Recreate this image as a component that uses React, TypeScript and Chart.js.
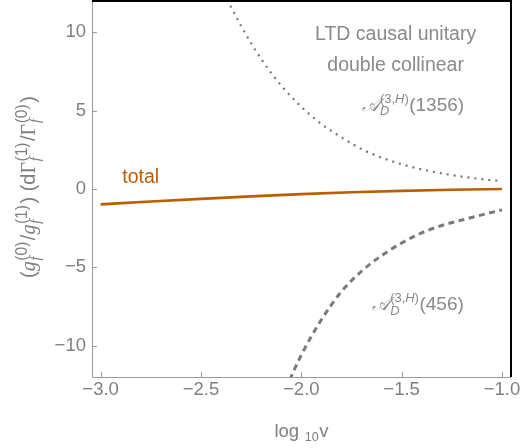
import { useEffect, useRef } from 'react';
import { Chart, registerables } from 'chart.js';

Chart.register(...registerables);

// ---- data ----
const totalX = [-3.0, -2.75, -2.5, -2.25, -2.0, -1.75, -1.5, -1.25, -1.0];
const totalY = [-0.98, -0.8, -0.63, -0.47, -0.33, -0.21, -0.12, -0.05, 0.0];

const upperX = [-2.4, -2.3, -2.2, -2.1, -2.0, -1.9, -1.8, -1.7, -1.6, -1.5, -1.4, -1.3, -1.2, -1.1, -1.0];
const upperY = [12.9, 10.4, 8.3, 6.6, 5.25, 4.15, 3.3, 2.55, 2.0, 1.58, 1.25, 1.0, 0.79, 0.63, 0.5];

const lowerX = [-2.1, -2.0, -1.9, -1.8, -1.7, -1.6, -1.5, -1.4, -1.3, -1.2, -1.1, -1.0];
const lowerY = [-13.4, -10.6, -8.35, -6.55, -5.25, -4.25, -3.45, -2.8, -2.33, -1.98, -1.65, -1.33];

const xTickValues = [-3.0, -2.5, -2.0, -1.5, -1.0];
const xTickLabels = ['\u22123.0', '\u22122.5', '\u22122.0', '\u22121.5', '\u22121.0'];
const yTickValues = [-10, -5, 0, 5, 10];
const yTickLabels = ['\u221210', '\u22125', '0', '5', '10'];

const SANS = '"Liberation Sans", Arial, Helvetica, sans-serif';
const SERIF = '"Liberation Serif", "Times New Roman", serif';
const AXIS_GRAY = '#9a9a9a';
const TEXT_GRAY = '#7f7f7f';
const ANNO_GRAY = '#8a8a8a';
const ORANGE = '#bb5e00';

type Piece = { t: string; i?: boolean; serif?: boolean };
type Run = { base: Piece[]; sup?: Piece[]; sub?: Piece[] };

function fontStr(p: Piece, size: number) {
  return `${p.i ? 'italic ' : ''}${size}px ${p.serif ? SERIF : SANS}`;
}
function piecesWidth(ctx: CanvasRenderingContext2D, ps: Piece[] | undefined, size: number) {
  if (!ps) return 0;
  let w = 0;
  for (const p of ps) {
    ctx.font = fontStr(p, size);
    w += ctx.measureText(p.t).width;
  }
  return w;
}
function drawPieces(ctx: CanvasRenderingContext2D, ps: Piece[], x: number, y: number, size: number) {
  for (const p of ps) {
    ctx.font = fontStr(p, size);
    ctx.fillText(p.t, x, y);
    x += ctx.measureText(p.t).width;
  }
  return x;
}
function runsWidth(ctx: CanvasRenderingContext2D, runs: Run[], size: number, ratio: number, gap: number) {
  const ss = size * ratio;
  let w = 0;
  for (const r of runs) {
    w += piecesWidth(ctx, r.base, size);
    const sw = Math.max(piecesWidth(ctx, r.sup, ss), piecesWidth(ctx, r.sub, ss));
    if (sw > 0) w += sw + gap;
  }
  return w;
}
function drawRuns(
  ctx: CanvasRenderingContext2D,
  runs: Run[],
  x: number,
  y: number,
  size: number,
  align: 'left' | 'center',
  ratio = 0.68,
  gap = 1
) {
  const ss = size * ratio;
  let cx = align === 'center' ? x - runsWidth(ctx, runs, size, ratio, gap) / 2 : x;
  ctx.textAlign = 'left';
  ctx.textBaseline = 'alphabetic';
  for (const r of runs) {
    cx = drawPieces(ctx, r.base, cx, y, size);
    let sw = 0;
    if (r.sup) sw = Math.max(sw, piecesWidth(ctx, r.sup, ss));
    if (r.sub) sw = Math.max(sw, piecesWidth(ctx, r.sub, ss));
    if (r.sup) drawPieces(ctx, r.sup, cx + 0.5, y - size * 0.42, ss);
    if (r.sub) drawPieces(ctx, r.sub, cx + 0.5, y + size * 0.24, ss);
    if (sw > 0) cx += sw + gap;
  }
}

const yTitle: Run[] = [
  { base: [{ t: '(' }] },
  { base: [{ t: 'g', i: true, serif: true }], sup: [{ t: '(0)' }], sub: [{ t: 'f', i: true, serif: true }] },
  { base: [{ t: '/' }] },
  { base: [{ t: 'g', i: true, serif: true }], sup: [{ t: '(1)' }], sub: [{ t: 'f', i: true, serif: true }] },
  { base: [{ t: ') (d' }] },
  { base: [{ t: '\u0393', serif: true }], sup: [{ t: '(1)' }], sub: [{ t: 'f', i: true, serif: true }] },
  { base: [{ t: '/' }] },
  { base: [{ t: '\u0393', serif: true }], sup: [{ t: '(0)' }], sub: [{ t: 'f', i: true, serif: true }] },
  { base: [{ t: ')' }] },
];
const xTitle: Run[] = [
  { base: [{ t: 'log ' }], sub: [{ t: '10' }] },
  { base: [{ t: 'v' }] },
];
const scriptA: Run = {
  base: [{ t: '\u{1D49C}', i: true, serif: true }],
  sup: [{ t: '(3,' }, { t: 'H', i: true }, { t: ')' }],
  sub: [{ t: 'D', i: true }],
};
const label1356: Run[] = [scriptA, { base: [{ t: '(1356)' }] }];
const label456: Run[] = [scriptA, { base: [{ t: '(456)' }] }];

const framePlugin = {
  id: 'frameAndText',
  afterDatasetsDraw(chart: any) {
    const { ctx, chartArea: a, scales } = chart;
    const xs = scales.x;
    const ys = scales.y;
    ctx.save();
    ctx.strokeStyle = AXIS_GRAY;
    ctx.lineWidth = 1;
    ctx.beginPath();
    xs.ticks.forEach((t: any) => {
      const px = Math.round(xs.getPixelForValue(t.value)) + 0.5;
      ctx.moveTo(px, a.bottom);
      ctx.lineTo(px, a.bottom - 5);
    });
    ys.ticks.forEach((t: any) => {
      const py = Math.round(ys.getPixelForValue(t.value)) + 0.5;
      ctx.moveTo(a.left, py);
      ctx.lineTo(a.left + 5, py);
    });
    ctx.moveTo(a.left + 0.5, a.top);
    ctx.lineTo(a.left + 0.5, a.bottom + 0.5);
    ctx.lineTo(a.right, a.bottom + 0.5);
    ctx.stroke();

    ctx.strokeStyle = '#000';
    ctx.lineWidth = 2;
    ctx.beginPath();
    ctx.moveTo(a.left, a.top);
    ctx.lineTo(a.right, a.top);
    ctx.lineTo(a.right, a.bottom);
    ctx.stroke();

    // annotations (anchored in data coordinates)
    const X = (v: number) => xs.getPixelForValue(v);
    const Y = (v: number) => ys.getPixelForValue(v);
    ctx.fillStyle = ANNO_GRAY;
    ctx.font = `19.5px ${SANS}`;
    ctx.textAlign = 'center';
    ctx.textBaseline = 'middle';
    ctx.fillText('LTD causal unitary', X(-1.53), Y(9.87));
    ctx.fillText('double collinear', X(-1.53), Y(7.9));
    drawRuns(ctx, label1356, X(-1.7), Y(5.0), 19, 'left');
    drawRuns(ctx, label456, X(-1.649), Y(-7.75), 19, 'left');

    ctx.fillStyle = ORANGE;
    ctx.font = `19.5px ${SANS}`;
    ctx.textAlign = 'center';
    ctx.textBaseline = 'middle';
    ctx.fillText('total', X(-2.8), Y(0.7));

    // axis titles
    ctx.fillStyle = TEXT_GRAY;
    drawRuns(ctx, xTitle, (a.left + a.right) / 2, 437, 18.5, 'center');
    ctx.save();
    ctx.translate(35, 187);
    ctx.rotate(-Math.PI / 2);
    drawRuns(ctx, yTitle, 0, 0, 20, 'center', 0.78, 2);
    ctx.restore();
    ctx.restore();
  },
};

const pts = (xs: number[], ys: number[]) => xs.map((x, i) => ({ x, y: ys[i] }));
const findLabel = (vals: number[], labels: string[], v: number) => {
  const i = vals.findIndex((t) => Math.abs(t - v) < 1e-9);
  return i >= 0 ? labels[i] : '';
};

export default function App() {
  const ref = useRef<HTMLCanvasElement | null>(null);
  useEffect(() => {
    if (!ref.current) return;
    const chart = new Chart(ref.current, {
      type: 'line',
      data: {
        datasets: [
          {
            label: 'A(1356)',
            data: pts(upperX, upperY),
            borderColor: '#767676',
            borderWidth: 2.2,
            borderDash: [2, 5],
            borderCapStyle: 'butt',
            pointRadius: 0,
            cubicInterpolationMode: 'monotone',
          },
          {
            label: 'A(456)',
            data: pts(lowerX, lowerY),
            borderColor: '#7a7a7a',
            borderWidth: 3,
            borderDash: [6, 4.5],
            borderCapStyle: 'butt',
            pointRadius: 0,
            cubicInterpolationMode: 'monotone',
          },
          {
            label: 'total',
            data: pts(totalX, totalY),
            borderColor: ORANGE,
            borderWidth: 2.6,
            pointRadius: 0,
            cubicInterpolationMode: 'monotone',
          },
        ],
      },
      options: {
        responsive: false,
        animation: false,
        events: [],
        layout: { padding: { top: 1, right: 9, left: 0, bottom: 0 } },
        plugins: { legend: { display: false }, tooltip: { enabled: false } },
        scales: {
          x: {
            type: 'linear',
            min: -3.043,
            max: -0.955,
            grid: { display: false, drawTicks: false },
            border: { display: false },
            ticks: {
              font: { family: SANS, size: 18.5 },
              color: TEXT_GRAY,
              padding: 2,
              maxRotation: 0,
              autoSkip: false,
              callback: (v: any) => findLabel(xTickValues, xTickLabels, Number(v)),
            },
            afterBuildTicks: (s: any) => {
              s.ticks = xTickValues.map((v) => ({ value: v }));
            },
            afterFit: (s: any) => {
              s.height = 71;
              s.paddingLeft = 0;
              s.paddingRight = 0;
            },
          },
          y: {
            type: 'linear',
            min: -12,
            max: 12,
            grid: { display: false, drawTicks: false },
            border: { display: false },
            ticks: {
              font: { family: SANS, size: 18.5 },
              color: TEXT_GRAY,
              padding: 6,
              autoSkip: false,
              callback: (v: any) => findLabel(yTickValues, yTickLabels, Number(v)),
            },
            afterBuildTicks: (s: any) => {
              s.ticks = yTickValues.map((v) => ({ value: v }));
            },
            afterFit: (s: any) => {
              s.width = 92;
              s.paddingTop = 0;
              s.paddingBottom = 0;
            },
          },
        },
      } as any,
      plugins: [framePlugin],
    });
    return () => chart.destroy();
  }, []);
  return (
    <div style={{ position: 'fixed', left: 0, top: 0, width: 520, height: 448, background: '#fff' }}>
      <canvas ref={ref} width={520} height={448} style={{ width: 520, height: 448, display: 'block' }} />
    </div>
  );
}
